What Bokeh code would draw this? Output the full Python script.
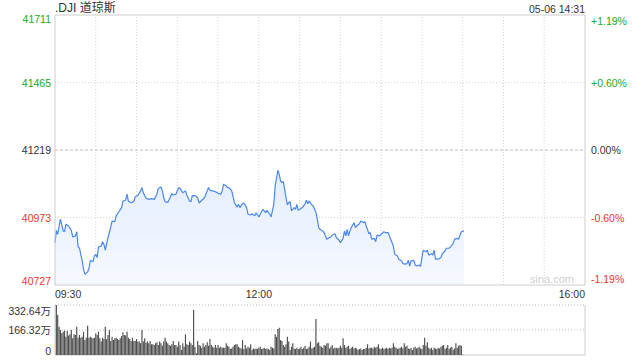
import numpy as np
from bokeh.plotting import figure
from bokeh.layouts import column
from bokeh.models import Range1d
from bokeh.core.properties import value
from bokeh.embed import file_html
from bokeh.resources import INLINE

# ---------------- data ----------------
title_text = ".DJI 道琼斯"
stamp_text = "05-06 14:31"
prev_close = 41219
price_ticks = [41711, 41465, 41219, 40973, 40727]
pct_labels = ["+1.19%", "+0.60%", "0.00%", "-0.60%", "-1.19%"]
time_ticks = [0, 150, 390]            # minutes after 09:30
time_labels = ["09:30", "12:00", "16:00"]
grid_minutes = [30, 60, 90, 120, 150, 180, 210, 240, 270, 300, 330, 360]
vol_ticks = [332.64, 166.32, 0]
vol_labels = ["332.64万", "166.32万", "0"]

price_minutes = [
    0, 1, 2, 4, 6, 7, 8, 10, 12, 13, 15, 16, 17, 18, 20, 21, 22, 24, 25, 26,
    28, 29, 30, 31, 32, 34, 35, 36, 37, 39, 40, 42, 44, 45, 47, 49, 50, 52, 53, 54,
    56, 58, 59, 61, 63, 64, 65, 67, 69, 71, 73, 75, 76, 78,
    79, 80, 81, 83, 84, 86, 87, 89, 91, 92, 94, 96, 97, 99, 100, 101, 103, 105, 106, 108,
    110, 111, 113, 114, 116, 118, 120, 122, 123, 124, 126, 127, 128, 130, 131, 132, 134, 135, 136, 138,
    139, 141, 142, 144, 145, 147, 148, 150, 151,
    153, 155, 156, 158, 159, 161, 162, 164, 165, 166, 167, 168, 170, 171, 172, 173, 174, 176, 177, 178,
    179, 181, 182, 184, 185, 186, 187, 189, 190, 192, 193, 194, 195, 197, 198, 200, 201, 203, 204, 206,
    207, 209, 210, 212, 213, 214, 215, 216, 217, 218, 220, 221, 222, 224, 225, 227, 228,
    229, 231, 232, 233, 235, 236, 237, 239, 240, 242, 243, 245, 246, 247, 249, 250, 252, 253, 255, 256,
    258, 259, 260, 261, 262, 264, 265, 266, 268, 269, 270, 271, 273, 274, 275, 277, 278, 279, 280, 282,
    284, 285, 287, 288, 290, 291, 293, 294, 296, 297, 298, 299, 301,
]
price_values = [
    40881, 40926, 40912, 40967, 40924, 40921, 40948, 40942, 40926, 40902,
    40906, 40921, 40866, 40861, 40815, 40784, 40766, 40775, 40788, 40817,
    40812, 40833, 40839, 40827, 40866, 40869, 40885, 40875, 40854, 40900,
    40918, 40960, 40958, 40979, 40994, 41009, 41033, 41036, 41058, 41033,
    41027, 41031, 41048, 41054, 41070, 41082, 41063, 41043, 41039, 41042,
    41039, 41058, 41079, 41084,
    41070, 41045, 41031, 41028, 41039, 41060, 41055, 41058, 41082, 41079,
    41063, 41070, 41055, 41033, 41030, 41053, 41053, 41045, 41026, 41036,
    41045, 41058, 41082, 41072, 41070, 41067, 41061, 41058, 41070, 41094,
    41088, 41082, 41082, 41070, 41051, 41027, 41011, 41021, 41009, 41023,
    41026, 41009, 40985, 40982, 40987, 40979, 40990, 40975, 40985,
    41003, 40991, 40999, 40985, 40975, 41021, 41088, 41145, 41130, 41106,
    41100, 41104, 41045, 41019, 41027, 41031, 40997, 41009, 41003, 41021,
    40999, 41007, 41009, 41023, 41036, 41023, 41033, 41019, 41015, 40991,
    40967, 40936, 40930, 40924, 40918, 40894, 40897, 40902, 40909, 40914,
    40900, 40890, 40881, 40897, 40924, 40906, 40930, 40906, 40924, 40936,
    40954, 40936, 40942, 40950, 40960, 40954, 40958,
    40942, 40914, 40918, 40894, 40897, 40885, 40909, 40906, 40912, 40921,
    40918, 40918, 40906, 40894, 40869, 40839, 40833, 40821, 40815, 40805,
    40803, 40805, 40817, 40796, 40815, 40817, 40800, 40796, 40800, 40795,
    40827, 40854, 40848, 40854, 40836, 40841, 40836, 40854, 40821, 40821,
    40827, 40841, 40851, 40861, 40861, 40866, 40878, 40894, 40897, 40894,
    40909, 40921, 40924,
]

# volume per minute, in 万
volumes = [
    332.64, 266, 188, 166, 144, 155, 162, 122, 162, 129,
    138, 166, 111, 138, 133, 188, 115, 133, 115, 122,
    155, 100, 115, 195, 115, 122, 115, 111, 115, 144,
    133, 155, 111, 89, 115, 106, 188, 106, 133, 166,
    93, 122, 100, 111, 115, 106, 100, 111, 126, 151,
    133, 129, 155, 115, 106, 93, 115, 93, 93,
    106, 89, 89, 78, 166, 89, 111, 82, 89, 78,
    93, 71, 71, 67, 78, 84, 67, 89, 78, 62,
    89, 115, 89, 78, 67, 62, 71, 93, 67, 67,
    55, 89, 67, 33, 78, 55, 138, 71, 67, 89,
    78, 67, 299, 55, 11, 93, 67, 62, 49, 78,
    55, 67, 84, 62, 106, 67, 55, 49, 67, 49,
    67, 49, 55, 49, 49, 49, 78, 62, 55, 40,
    44, 55, 67, 71, 71, 55, 49, 44, 100, 40,
    67, 44, 55, 49, 71, 33, 44, 40, 44,
    40, 49, 55, 40, 44, 49, 40, 44, 40, 33,
    55, 49, 44, 138, 122, 173, 182, 100, 93, 67,
    55, 71, 122, 89, 33, 55, 78, 44, 40, 49,
    40, 44, 55, 40, 49, 62, 40, 44, 55,
    89, 44, 49, 55, 240, 78, 84, 62, 55, 49,
    67, 62, 78,
    78, 44, 55, 67, 44, 49, 49, 44, 49, 62,
    49, 111, 67, 49, 55, 62, 40, 49, 55, 44,
    49, 44, 33, 40, 44, 33, 40, 40, 49, 71,
    44, 49, 49, 44, 55, 49, 55, 71, 44, 40,
    49, 40, 44, 49, 40, 49, 44, 49,
    78, 55, 49, 40, 44, 49, 55, 44, 78, 55,
    62, 44, 40, 49, 33, 49, 55, 44, 49, 55,
    44, 40, 67, 115, 62, 84, 49, 40, 49, 33,
    49, 44, 40, 49, 44, 55, 62, 67, 40, 49,
    67, 40, 49, 55, 33, 44, 78, 49, 62, 67, 62, 4,
]
vol_minutes = list(range(1, len(volumes) + 1))

# ---------------- style / layout constants (pixels) ----------------
GREEN = "#22a822"
RED = "#f0352c"
DARK = "#333333"
FONT = value("Liberation Sans")
CJK_FONT = value("Liberation Sans, Noto Sans CJK SC")
FS = "10.5px"
GRID = "#d4d4d4"
BORDER = "#cccccc"

W, H1, H2 = 640, 300, 60
PL, PR = 54.5, 584.5          # plot frame left/right in px
PT, PB = 14.5, 284.5          # price frame top/bottom in px
VT, VB = 4.5, 54.5            # volume frame top/bottom in px (inside volume figure)

t0, t1 = time_ticks[0], time_ticks[-1]
y_hi, y_lo = price_ticks[0], price_ticks[-1]
v_hi, v_lo = vol_ticks[0], vol_ticks[-1]

xs = (PR - PL) / (t1 - t0)
x_range = Range1d(t0 - PL / xs, t1 + (W - PR) / xs)
ys = (PB - PT) / (y_hi - y_lo)
y_range = Range1d(y_lo - (H1 - PB) / ys, y_hi + PT / ys)
vs = (VB - VT) / (v_hi - v_lo)
v_range = Range1d(v_lo - (H2 - VB) / vs, v_hi + VT / vs)

p = figure(width=W, height=H1, x_range=x_range, y_range=y_range,
           output_backend="svg", toolbar_location=None,
           x_axis_location=None, y_axis_location=None, min_border=0)
p.grid.visible = False
p.outline_line_color = None
p.background_fill_color = "white"
p.border_fill_color = "white"

# grid
p.segment(x0=grid_minutes, y0=y_lo, x1=grid_minutes, y1=y_hi,
          line_color=GRID, line_dash="1 2", line_width=1)
p.segment(x0=t0, y0=[price_ticks[1], price_ticks[3]], x1=t1, y1=[price_ticks[1], price_ticks[3]],
          line_color=GRID, line_dash="1 2", line_width=1)
p.segment(x0=t0, y0=prev_close, x1=t1, y1=prev_close,
          line_color="#bdbdbd", line_dash="3 2", line_width=1)

pm = np.array(price_minutes, dtype=float)
pv = np.array(price_values, dtype=float)
# gradient-like area fill under the line
p.varea(x=pm, y1=y_lo, y2=pv, fill_color="#f8fbff", fill_alpha=1.0)
for lev in np.linspace(y_lo, y_hi, 17)[:-1]:
    p.varea(x=pm, y1=lev, y2=np.maximum(pv, lev), fill_color="#c9dcf8", fill_alpha=0.06)
p.line(pm, pv, line_color="#4a88ee", line_width=1.2)

# frame border
p.line(x=[t0, t1, t1, t0, t0], y=[y_lo, y_lo, y_hi, y_hi, y_lo], line_color=BORDER, line_width=1)

# left / right tick labels
colors = [GREEN, GREEN, DARK, RED, RED]
baselines = ["top", "middle", "middle", "middle", "bottom"]
for tv, pl, c, b in zip(price_ticks, pct_labels, colors, baselines):
    p.text(x=[t0], y=[tv], text=[str(tv)], x_offset=-4, text_align="right",
           text_baseline=b, text_color=c, text_font=FONT, text_font_size=FS)
    p.text(x=[t1], y=[tv], text=[pl], x_offset=6, text_align="left",
           text_baseline=b, text_color=c, text_font=FONT, text_font_size=FS)

# time labels
aligns = ["left", "center", "right"]
for tm, tl, a in zip(time_ticks, time_labels, aligns):
    p.text(x=[tm], y=[y_lo], text=[tl], y_offset=3, text_align=a,
           text_baseline="top", text_color=DARK, text_font=FONT, text_font_size=FS)

p.text(x=[t0], y=[y_hi], text=[title_text], text_align="left", text_baseline="bottom",
       text_color=DARK, text_font=CJK_FONT, text_font_size="12px")
p.text(x=[t1], y=[y_hi], text=[stamp_text], text_align="right", text_baseline="bottom",
       text_color=DARK, text_font=FONT, text_font_size=FS)
p.text(x=[t1], y=[y_lo], text=["sina.com"], x_offset=-11, text_align="right",
       text_baseline="bottom", text_color="#cfcfcf", text_font=FONT, text_font_size="11px")

# ---------------- volume panel ----------------
v = figure(width=W, height=H2, x_range=x_range, y_range=v_range,
           output_backend="svg", toolbar_location=None,
           x_axis_location=None, y_axis_location=None, min_border=0)
v.grid.visible = False
v.outline_line_color = None
v.background_fill_color = "white"
v.border_fill_color = "white"

v.segment(x0=t0, y0=[vol_ticks[0], vol_ticks[1]], x1=t1, y1=[vol_ticks[0], vol_ticks[1]],
          line_color=GRID, line_dash="1 2", line_width=1.5)
v.line(x=[t0, t0, t1, t1], y=[v_hi, v_lo, v_lo, v_hi], line_color=BORDER, line_width=1)
v.vbar(x=vol_minutes, top=volumes, bottom=v_lo, width=0.85, fill_color="#4f4f4f", line_color=None)

vbases = ["top", "middle", "bottom"]
for tv, tl, b in zip(vol_ticks, vol_labels, vbases):
    v.text(x=[t0], y=[tv], text=[tl], x_offset=-4, text_align="right",
           text_baseline=b, text_color=DARK, text_font=CJK_FONT, text_font_size=FS)

layout = column(p, v, spacing=0)
open("out.html", "w").write(file_html(layout, INLINE))
